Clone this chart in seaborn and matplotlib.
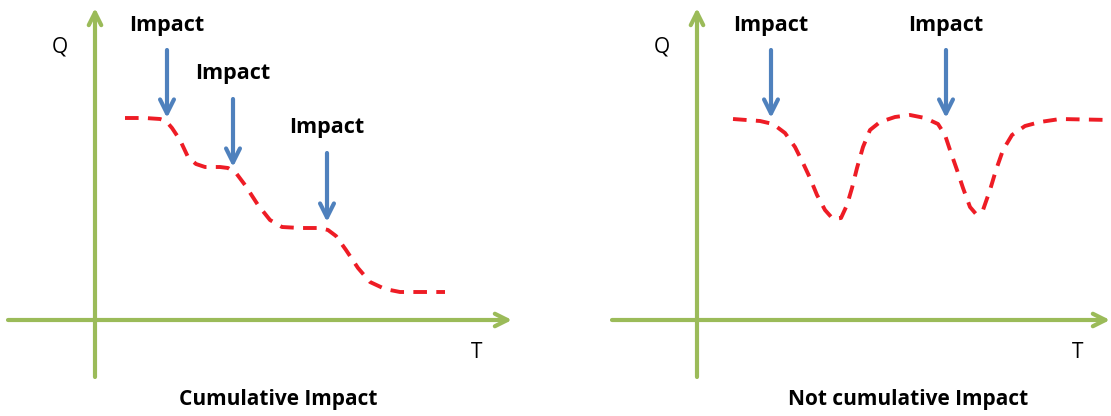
import numpy as np
import pandas as pd
import seaborn as sns
import matplotlib.pyplot as plt

left_t = [30, 50, 65, 71, 77, 85, 93, 101, 110, 125, 133, 141, 150, 163, 175, 187,
          205, 225, 233, 241, 251, 263, 275, 290, 305, 350]
left_q = [202, 202, 201, 199, 192, 180, 163, 156, 153, 153, 152, 147, 135, 115, 100, 93,
          92, 92, 90, 84, 70, 52, 38, 31, 28, 28]

right_t = [36, 63, 76, 88, 98, 106, 113, 120, 128, 136, 144, 150, 155, 160, 166, 173,
           183, 198, 213, 228, 241, 248, 253, 260, 266, 273, 279, 286, 293, 299, 306,
           315, 328, 343, 363, 413]
right_q = [201, 199, 196, 187, 173, 157, 142, 125, 110, 101, 102, 115, 132, 152, 173, 190,
           198, 203, 205, 202, 196, 185, 170, 150, 132, 113, 106, 110, 130, 150, 170,
           185, 194, 198, 201, 200]

# impact arrows: position on T, arrow top, arrow tip, label height
left_impact_t = [72, 138, 232]
left_impact_top = [270, 221, 167]
left_impact_tip = [202, 153, 98]
left_label_q = [295, 247, 193]

right_impact_t = [74, 249]
right_impact_top = [270, 270]
right_impact_tip = [202, 202]
right_label_q = [295, 295]

captions = ["Cumulative Impact", "Not cumulative Impact"]

GREEN = "#9bbb59"
BLUE = "#4f81bd"
RED = "#ee1c25"

sns.set_style("white")
plt.rcParams['font.family'] = ['Open Sans', 'DejaVu Sans']

fig = plt.figure(figsize=(11.11, 4.16), dpi=100)


def panel(rect, xlim, curve_t, curve_q, imp_t, imp_top, imp_tip, lab_q,
          x_axis, caption, caption_t, t_label):
    ax = fig.add_axes(rect)
    # green axes with open arrow heads
    ax.annotate("", xy=(0, 312), xytext=(0, -57),
                arrowprops=dict(arrowstyle="->,head_length=0.9,head_width=0.45",
                                color=GREEN, lw=3, shrinkA=0, shrinkB=0))
    ax.annotate("", xy=(x_axis[1], 0), xytext=(x_axis[0], 0),
                arrowprops=dict(arrowstyle="->,head_length=0.9,head_width=0.45",
                                color=GREEN, lw=3, shrinkA=0, shrinkB=0))
    df = pd.DataFrame({"T": curve_t, "Q": curve_q})
    sns.lineplot(data=df, x="T", y="Q", sort=False, ax=ax, color=RED,
                 linewidth=2.8, linestyle=(0, (3.5, 2.4)))
    ax.set_xlim(*xlim)
    ax.set_ylim(-96, 320)
    ax.axis('off')
    for t, top, tip, lq in zip(imp_t, imp_top, imp_tip, lab_q):
        ax.annotate("", xy=(t, tip), xytext=(t, top),
                    arrowprops=dict(arrowstyle="->,head_length=1.0,head_width=0.5",
                                    color=BLUE, lw=3, shrinkA=0, shrinkB=0))
        ax.text(t, lq, "Impact", ha="center", va="center", fontsize=15.5,
                fontweight="bold", color="black")
    ax.text(-35, 273, "Q", ha="center", va="center", fontsize=15, color="black")
    ax.text(t_label, -32, "T", ha="center", va="center", fontsize=15, color="black")
    ax.text(caption_t, -80, caption, ha="center", va="center", fontsize=15,
            fontweight="bold", color="black")


panel([0, 0, 555 / 1111, 1], (-95, 460), left_t, left_q, left_impact_t,
      left_impact_top, left_impact_tip, left_label_q, (-87, 417),
      captions[0], 183, 382)
panel([555 / 1111, 0, 556 / 1111, 1], (-142, 414), right_t, right_q, right_impact_t,
      right_impact_top, right_impact_tip, right_label_q, (-85, 413),
      captions[1], 211, 381)

fig.savefig("out.png", dpi=100)
